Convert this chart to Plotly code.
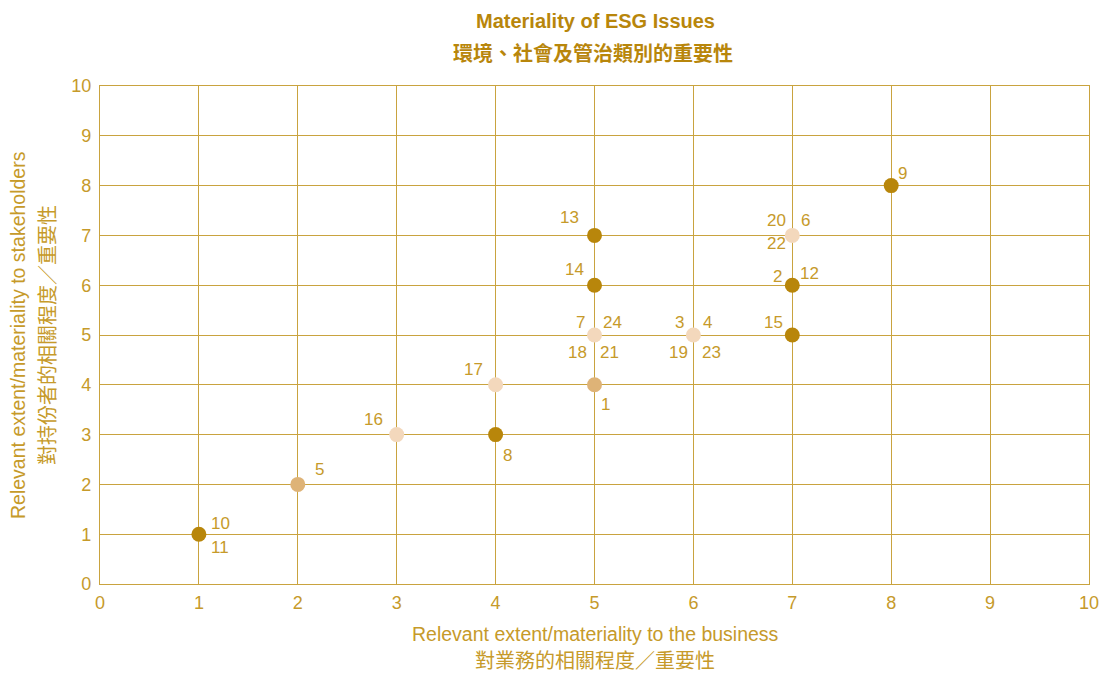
import plotly.graph_objects as go

# ---- data ----
dark_x = [1, 4, 5, 5, 7, 7, 8]
dark_y = [1, 3, 7, 6, 6, 5, 8]
medium_x = [2, 5]
medium_y = [2, 4]
light_x = [3, 4, 5, 6, 7]
light_y = [3, 4, 5, 5, 7]

label_text = ["10", "11", "8", "13", "14", "2", "12", "15", "9",
              "5", "1",
              "16", "17", "7", "24", "18", "21", "3", "4", "19", "23", "20", "6", "22"]
label_x = [1, 1, 4, 5, 5, 7, 7, 7, 8,
           2, 5,
           3, 4, 5, 5, 5, 5, 6, 6, 6, 6, 7, 7, 7]
label_y = [1, 1, 3, 7, 6, 6, 6, 5, 8,
           2, 4,
           3, 4, 5, 5, 5, 5, 5, 5, 5, 5, 7, 7, 7]

x_ticks = list(range(0, 11))
y_ticks = list(range(0, 11))

# ---- styling / placement (pixel offsets of each label from its point) ----
label_offsets = [(22, 11), (21, -13), (12, -21), (-25, 18), (-20, 16), (-15, 9), (17, 12), (-19, 13), (11, 12),
                 (22, 15), (11, -20),
                 (-23, 15), (-22, 15), (-14, 13), (18, 13), (-17, -17), (15, -17), (-14, 13), (14, 13), (-15, -17), (18, -17),
                 (-16, 15), (13, 15), (-16, -8)]

DARK = "#B8860B"
MEDIUM = "#DEB377"
LIGHT = "#F3D8BC"
TEXT = "#C69A2A"
GRID = "#C9A33F"
EN = "Liberation Sans"
ZH = "Noto Sans CJK TC"

W, H = 1102, 674
L, R, T, B = 100, 13, 86, 90
pw, ph = W - L - R, H - T - B

fig = go.Figure()
for xs, ys, col in [(dark_x, dark_y, DARK), (medium_x, medium_y, MEDIUM), (light_x, light_y, LIGHT)]:
    fig.add_trace(go.Scatter(x=xs, y=ys, mode="markers",
                             marker=dict(size=15, color=col, line=dict(width=0)),
                             hoverinfo="x+y", showlegend=False))

annotations = []
for t, x, y, (dx, dy) in zip(label_text, label_x, label_y, label_offsets):
    annotations.append(dict(x=x, y=y, xref="x", yref="y", text=t, showarrow=False,
                            xshift=dx, yshift=dy, xanchor="center", yanchor="middle",
                            font=dict(family=EN, size=17, color=TEXT)))

# titles, placed by page pixel
def px_x(p):
    return (p - L) / pw

def px_y(p):
    return 1 - (p - T) / ph

titles = [
    (595, 21, "<b>Materiality of ESG Issues</b>", EN, 20, "#B8860B", 0),
    (593, 52, "<b>環境、社會及管治類別的重要性</b>", ZH, 20, "#B8860B", 0),
    (595, 634, "Relevant extent/materiality to the business", EN, 19.5, TEXT, 0),
    (595, 659, "對業務的相關程度／重要性", ZH, 20, TEXT, 0),
    (18, 335, "Relevant extent/materiality to stakeholders", EN, 19.5, TEXT, -90),
    (46, 335, "對持份者的相關程度／重要性", ZH, 20, TEXT, -90),
]
for x, y, txt, fam, size, col, ang in titles:
    annotations.append(dict(x=px_x(x), y=px_y(y), xref="paper", yref="paper", text=txt,
                            showarrow=False, xanchor="center", yanchor="middle", textangle=ang,
                            borderpad=0,
                            font=dict(family=fam, size=size, color=col)))

axis_common = dict(range=[0, 10], showgrid=True, gridcolor=GRID, gridwidth=1.2,
                   showline=True, linecolor=GRID, linewidth=1.2, mirror=True, automargin=False,
                   zeroline=False, ticks="", tickfont=dict(family=EN, size=18, color=TEXT))
fig.update_layout(
    width=W, height=H,
    margin=dict(l=L, r=R, t=T, b=B, autoexpand=False),
    paper_bgcolor="white", plot_bgcolor="white",
    xaxis=dict(tickvals=x_ticks, ticktext=[str(v) for v in x_ticks], ticklabelstandoff=2, **axis_common),
    yaxis=dict(tickvals=y_ticks, ticktext=[str(v) for v in y_ticks], ticklabelstandoff=4, **axis_common),
    annotations=annotations,
)
fig.write_html("out.html", config={"displayModeBar": False},
               post_script="document.body.style.margin='0';document.body.style.overflow='hidden';")
